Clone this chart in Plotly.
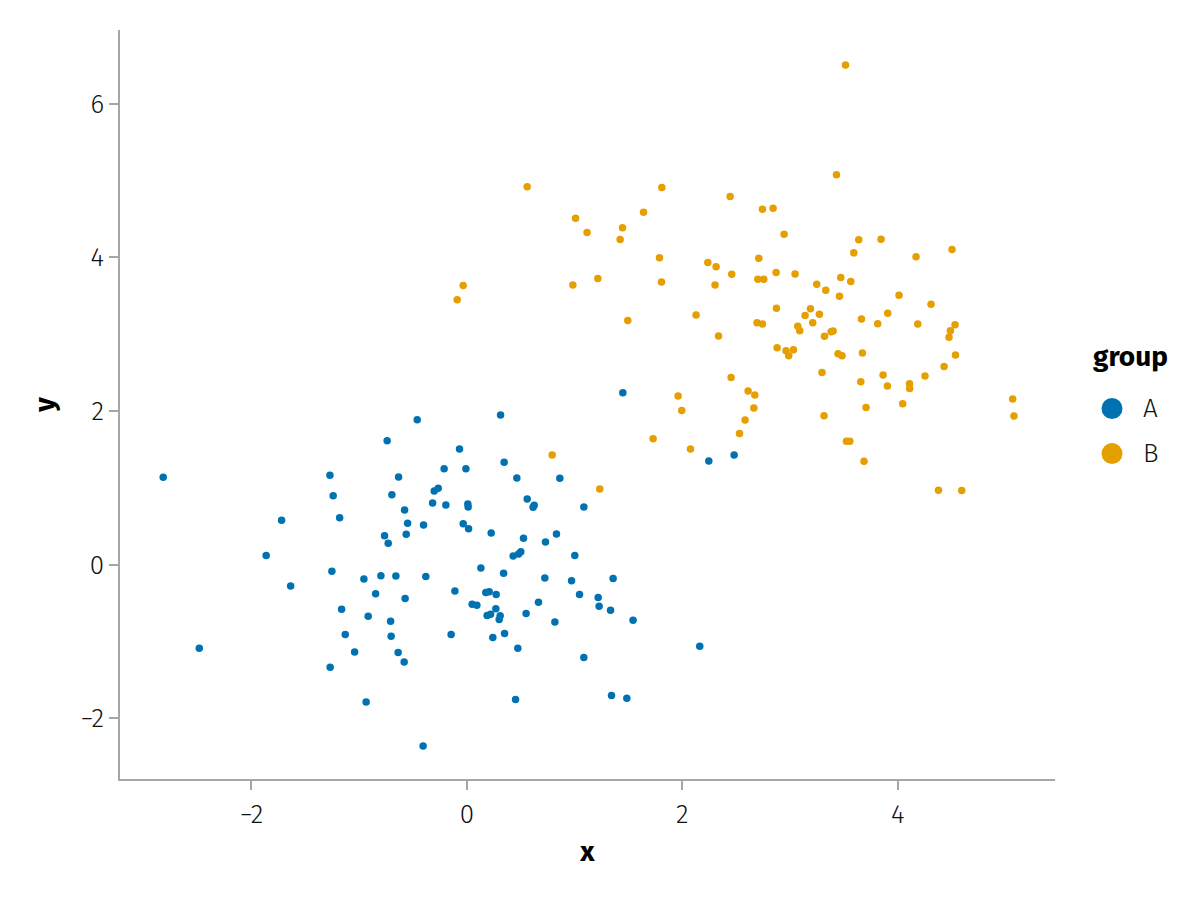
import plotly.graph_objects as go

# Group A
a_x = [-0.461, -0.740, -2.819, -1.271, -0.634, -1.241, -0.696, -0.578, -1.720, -1.181,
       -0.550, -0.402, -0.764, -0.563, -0.730, -1.863,
       -1.253, -0.956, -0.798, -0.659, -0.381, -1.636, -0.847, -0.573, -1.163, -0.916,
       -0.708, -1.129, -0.703, -1.042, -0.638, -0.582, -2.484, -1.269, -0.935, -0.406,
       1.448, 0.313, -0.068, 0.346, -0.211, -0.009, 0.464, 0.863, 2.246, -0.303,
       -0.266, -0.318, -0.195, 0.009, 0.012, 0.560, 0.625, 0.615, 1.086, -0.034,
       0.016, 0.226, 0.526, 0.832, 0.730, 0.430, 0.480, 0.501, 1.002,
       0.130, 0.341, 0.724, 0.972, 1.358, -0.111, 0.176, 0.207, 0.272, 1.046,
       1.219, 1.228, 1.334, 1.543, 0.049, 0.093, 0.665, 0.269, 0.188, 0.220,
       0.309, 0.300, 0.550, 0.817, -0.146, 0.241, 0.350, 0.473, 1.086, 2.162,
       0.452, 1.343, 1.485, 2.481]
a_y = [1.886, 1.612, 1.138, 1.164, 1.142, 0.898, 0.911, 0.712, 0.578, 0.612,
       0.539, 0.516, 0.377, 0.395, 0.278, 0.121,
       -0.087, -0.188, -0.145, -0.149, -0.153, -0.279, -0.379, -0.439, -0.579, -0.670,
       -0.735, -0.909, -0.931, -1.136, -1.144, -1.266, -1.087, -1.335, -1.788, -2.361,
       2.238, 1.947, 1.507, 1.334, 1.250, 1.250, 1.129, 1.125, 1.351, 0.960,
       0.995, 0.803, 0.777, 0.790, 0.751, 0.855, 0.773, 0.747, 0.751, 0.533,
       0.468, 0.412, 0.343, 0.399, 0.295, 0.112, 0.138, 0.168, 0.121,
       -0.044, -0.113, -0.175, -0.210, -0.179, -0.344, -0.361, -0.353, -0.387, -0.387,
       -0.426, -0.540, -0.592, -0.722, -0.514, -0.527, -0.488, -0.575, -0.661, -0.644,
       -0.666, -0.713, -0.635, -0.745, -0.909, -0.948, -0.896, -1.087, -1.209, -1.061,
       -1.756, -1.704, -1.739, 1.429]

# Group B
b_x = [1.961, 1.995, 1.729, 2.076, 0.792, 1.234,
       0.560, 1.810, 1.009, 1.116, 1.445, 1.640, 1.423, 1.788,
       3.515, 3.431, 2.444, 2.744, 2.843, 2.945, 3.638, 3.845, 3.592, 4.170, 4.504, 2.710,
       2.237, -0.034, -0.090, 0.984, 1.216, 1.807, 2.304, 1.494, 2.128,
       2.314, 2.459, 2.701, 2.756, 2.871, 3.047, 3.248, 3.332, 3.471, 3.564,
       3.459, 4.012, 4.309, 2.874, 3.190, 3.140, 3.273, 3.663, 3.907, 2.694,
       2.744, 3.211, 3.072, 3.090, 3.381, 3.400, 3.320, 3.814, 4.186, 4.532,
       4.489, 4.476, 2.336, 2.880, 2.963, 2.988, 3.032, 3.446, 3.483, 3.672,
       4.536, 4.430, 3.297, 3.864, 4.253, 2.453, 3.657, 3.904, 4.109, 4.111,
       2.611, 2.673, 4.046, 2.664, 3.706, 5.067, 5.079, 2.583, 3.316, 2.531,
       3.524, 3.555, 3.687, 4.378, 4.594]
b_y = [2.195, 2.007, 1.638, 1.507, 1.429, 0.986,
       4.920, 4.911, 4.510, 4.324, 4.385, 4.589, 4.233, 3.994,
       6.505, 5.076, 4.793, 4.628, 4.641, 4.302, 4.229, 4.237, 4.059, 4.007, 4.102, 3.989,
       3.933, 3.633, 3.450, 3.642, 3.724, 3.681, 3.642, 3.180, 3.251,
       3.877, 3.780, 3.715, 3.715, 3.802, 3.785, 3.650, 3.572, 3.737, 3.685,
       3.493, 3.506, 3.389, 3.337, 3.333, 3.242, 3.259, 3.199, 3.272, 3.150,
       3.133, 3.150, 3.102, 3.046, 3.033, 3.042, 2.972, 3.137, 3.133, 3.124,
       3.046, 2.959, 2.977, 2.824, 2.785, 2.720, 2.798, 2.746, 2.720, 2.755,
       2.729, 2.580, 2.502, 2.468, 2.455, 2.437, 2.381, 2.325, 2.355, 2.294,
       2.260, 2.208, 2.094, 2.038, 2.046, 2.155, 1.934, 1.882, 1.938, 1.707,
       1.608, 1.608, 1.347, 0.969, 0.964]

x_ticks = [-2, 0, 2, 4]
y_ticks = [-2, 0, 2, 4, 6]

groups = ["A", "B"]
colors = {"A": "#0072B2", "B": "#E69F00"}

FONT = "Fira Sans, Lato, Open Sans, DejaVu Sans, sans-serif"
AXIS_GREY = "#a6a6a6"

fig = go.Figure()
fig.add_trace(go.Scatter(x=a_x, y=a_y, mode="markers", name="A", showlegend=False,
                         marker=dict(color=colors["A"], size=7.5, line=dict(width=0))))
fig.add_trace(go.Scatter(x=b_x, y=b_y, mode="markers", name="B", showlegend=False,
                         marker=dict(color=colors["B"], size=7.5, line=dict(width=0))))

axis_common = dict(showgrid=False, zeroline=False, showline=True, linecolor=AXIS_GREY,
                   linewidth=1.5, ticks="outside", tickcolor=AXIS_GREY, ticklen=9,
                   tickwidth=1.5, tickfont=dict(family=FONT, size=26, color="#111111",
                                                weight=300))

fig.update_xaxes(range=[-3.22, 5.46], tickvals=x_ticks, ticklabelstandoff=2,
                 title=dict(text="x", font=dict(family=FONT, size=28, color="#000",
                                                weight="bold"), standoff=12),
                 **axis_common)
fig.update_yaxes(range=[-2.79, 6.96], tickvals=y_ticks, ticklabelstandoff=0,
                 title=dict(text="y", font=dict(family=FONT, size=28, color="#000",
                                                weight="bold"), standoff=18),
                 **axis_common)

# Legend (drawn in paper coordinates, Makie-style)
leg_title_y = (778 - 356) / 748
leg_item_y = [(778 - 408) / 748, (778 - 453) / 748]
leg_marker_x = (1112 - 120) / 935
leg_label_x = (1141 - 120) / 935
leg_title_x = (1091 - 120) / 935

annotations = [dict(text="group", x=leg_title_x, y=leg_title_y, xref="paper", yref="paper",
                    xanchor="left", yanchor="middle", showarrow=False,
                    font=dict(family=FONT, size=28, color="#000", weight="bold"))]
shapes = []
for g, yy in zip(groups, leg_item_y):
    annotations.append(dict(text=g, x=leg_label_x, y=yy, xref="paper", yref="paper",
                            xanchor="left", yanchor="middle", showarrow=False,
                            font=dict(family=FONT, size=26, color="#111111", weight=300)))
    shapes.append(dict(type="circle", xref="paper", yref="paper",
                       xsizemode="pixel", ysizemode="pixel",
                       xanchor=leg_marker_x, yanchor=yy,
                       x0=-10.5, x1=10.5, y0=-10.5, y1=10.5,
                       fillcolor=colors[g], line=dict(width=0)))

# page body has an 8px margin, so the figure offsets compensate for it
fig.update_layout(
    width=1200, height=900,
    margin=dict(l=112, r=153, t=22, b=129),
    plot_bgcolor="white", paper_bgcolor="white",
    showlegend=False,
    annotations=annotations,
    shapes=shapes,
)

fig.write_html("out.html")
